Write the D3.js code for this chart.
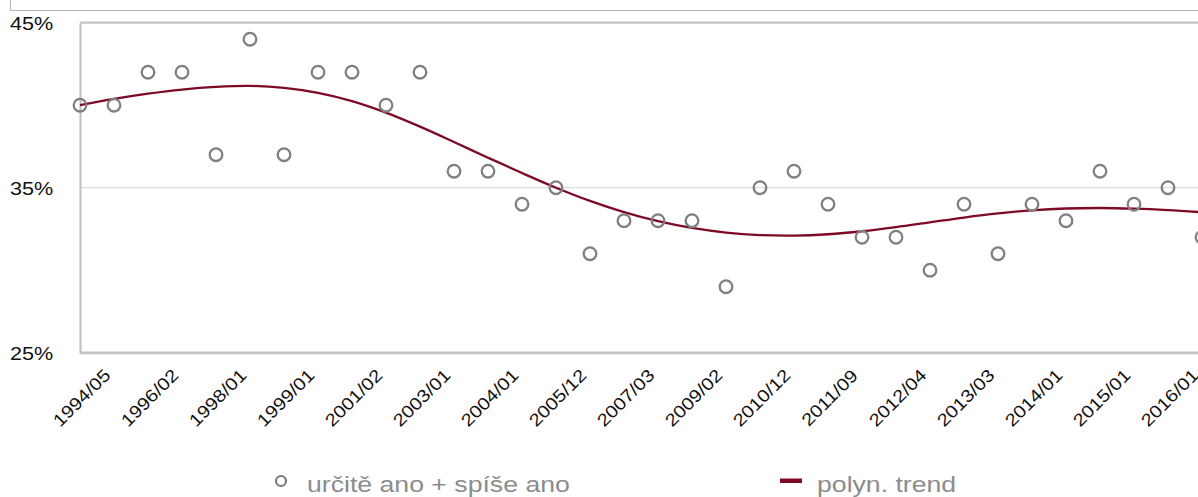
<!DOCTYPE html>
<html>
<head>
	<meta charset="utf-8">
	<title>Trend</title>
	<style>
		body { margin: 0; background: #fff; }
		text { font-family: "Liberation Sans", Arial, sans-serif; }
	</style>
</head>
<body>
	<svg id="canvas" width="1198" height="497"></svg>
	<script src="https://cdn.jsdelivr.net/npm/d3@7"></script>
	<script>
		// survey waves shown on the axis (every second wave is labelled)
		let tickLabels = ["1994/05", "1996/02", "1998/01", "1999/01", "2001/02", "2003/01", "2004/01", "2005/12",
			"2007/03", "2009/02", "2010/12", "2011/09", "2012/04", "2013/03", "2014/01", "2015/01", "2016/01"];

		// určitě ano + spíše ano, in %
		let values = [40, 40, 42, 42, 37, 44, 37, 42, 42, 40, 42, 36, 36, 34, 35, 31, 33, 33, 33, 29,
			35, 36, 34, 32, 32, 30, 34, 31, 34, 33, 36, 34, 35, 32];

		// polynomial trend at each wave
		let trend = [40.0, 40.38, 40.70, 40.95, 41.11, 41.17, 41.05, 40.75, 40.25, 39.55, 38.70, 37.77, 36.82,
			35.89, 35.00, 34.20, 33.52, 32.97, 32.56, 32.28, 32.13, 32.10, 32.18, 32.36, 32.61, 32.90,
			33.19, 33.44, 33.63, 33.74, 33.77, 33.73, 33.64, 33.51];

		let yTicks = [25, 35, 45];
		let legendItems = ["určitě ano + spíše ano", "polyn. trend"];

		let svg = d3.select("#canvas");
		let stretch = "scale(1.2,1)";

		// top frame left over from the page
		svg.append("path")
			.attr("d", "M10.5,0V10.5H1198")
			.attr("fill", "none")
			.attr("stroke", "#b4b4b4")
			.attr("stroke-width", 1);

		let x = d3.scalePoint()
			.domain(d3.range(values.length))
			.range([80, 80 + 34 * (values.length - 1)]);

		let y = d3.scaleLinear()
			.domain([25, 45])
			.range([352.7, 22.7]);

		// gridlines
		svg.append("g")
			.selectAll("line")
			.data(yTicks)
			.enter()
			.append("line")
				.attr("x1", 80)
				.attr("x2", 1198)
				.attr("y1", d => y(d))
				.attr("y2", d => y(d))
				.attr("stroke", d => d == 35 ? "#d2d2d2" : "#c4c4c4")
				.attr("stroke-width", d => d == 35 ? 1 : 2.2);

		// y axis
		let yAxis = svg.append("g")
			.attr("transform", "translate(80,0)")
			.call(d3.axisLeft(y).tickValues(yTicks).tickSize(0).tickFormat(d => d + "%"));
		yAxis.select(".domain")
			.attr("stroke", "#c2c2c2")
			.attr("stroke-width", 2.2);
		yAxis.selectAll("text")
			.attr("x", 0)
			.attr("dy", null)
			.attr("text-anchor", "start")
			.attr("transform", "translate(-70,7) " + stretch)
			.attr("font-size", 18)
			.attr("font-family", null)
			.attr("fill", "#111");

		// x axis
		let xAxis = svg.append("g")
			.attr("transform", "translate(0," + y(25) + ")")
			.call(d3.axisBottom(x)
				.tickValues(tickLabels.map((d, i) => i * 2))
				.tickSize(0)
				.tickFormat(i => tickLabels[i / 2]));
		xAxis.select(".domain")
			.attr("stroke", "#c2c2c2")
			.attr("stroke-width", 2.2);
		xAxis.selectAll("text")
			.attr("y", 0)
			.attr("dy", "0.35em")
			.attr("text-anchor", "middle")
			.attr("transform", "translate(1,45) rotate(-45) scale(1.15,1)")
			.attr("font-size", 17.5)
			.attr("font-family", null)
			.attr("fill", "#111");

		// trend line
		let line = d3.line()
			.x((d, i) => x(i))
			.y(d => y(d))
			.curve(d3.curveCatmullRom);

		svg.append("path")
			.datum(trend)
			.attr("d", line)
			.attr("fill", "none")
			.attr("stroke", "#7d0a26")
			.attr("stroke-width", 2.3);

		// markers
		svg.append("g")
			.selectAll("circle")
			.data(values)
			.enter()
			.append("circle")
				.attr("cx", (d, i) => x(i))
				.attr("cy", d => y(d))
				.attr("r", 6.3)
				.attr("fill", "none")
				.attr("stroke", "#808080")
				.attr("stroke-width", 2.3);

		// legend
		let legend = svg.append("g");
		legend.append("circle")
			.attr("cx", 281)
			.attr("cy", 481)
			.attr("r", 5)
			.attr("fill", "none")
			.attr("stroke", "#7a7a7a")
			.attr("stroke-width", 2.2);
		legend.append("rect")
			.attr("x", 780)
			.attr("y", 478.5)
			.attr("width", 22)
			.attr("height", 4.5)
			.attr("fill", "#7d0a26");
		legend.selectAll("text")
			.data(legendItems)
			.enter()
			.append("text")
				.attr("transform", (d, i) => "translate(" + (i == 0 ? 307 : 817) + ",492) " + stretch)
				.attr("font-size", 22.2)
				.attr("fill", "#8c8c8c")
				.text(d => d);
	</script>
</body>
</html>
